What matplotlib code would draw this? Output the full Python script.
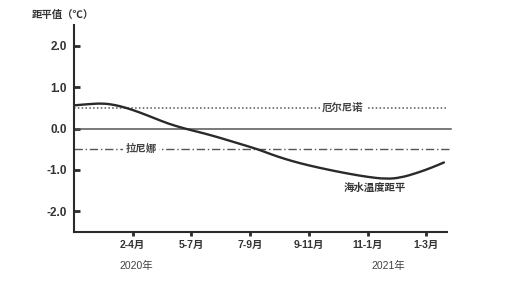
import numpy as np
import matplotlib
matplotlib.use('Agg')
import matplotlib.pyplot as plt
from matplotlib.path import Path
from matplotlib.patches import PathPatch

plt.rcParams['font.family'] = ['Liberation Sans', 'Noto Sans CJK SC', 'DejaVu Sans']

# x axis: season index (2-4月 = 1)
season_labels = ['2-4月', '5-7月', '7-9月', '9-11月', '11-1月', '1-3月']
season_pos = [1, 2, 3, 4, 5, 6]

# sea temperature anomaly curve
curve_x = [0.0, 0.25, 0.49, 0.7, 0.89, 1.1, 1.37, 1.6, 1.88, 2.2, 2.5, 2.8,
           3.13, 3.35, 3.58, 3.85, 4.15, 4.45, 4.71, 5.0, 5.31, 5.56, 5.85,
           6.1, 6.3]
curve_y = [0.56, 0.59, 0.61, 0.57, 0.50, 0.40, 0.25, 0.12, 0.0, -0.11,
           -0.23, -0.36, -0.50, -0.62, -0.73, -0.84, -0.94, -1.03, -1.10,
           -1.17, -1.22, -1.19, -1.07, -0.94, -0.82]

el_nino = 0.5
la_nina = -0.5
yticks = [-2.0, -1.0, 0.0, 1.0, 2.0]


def smooth_path(xs, ys):
    # quadratic bezier through midpoints, read points act as control points
    pts = np.column_stack([xs, ys])
    verts = [pts[0]]
    codes = [Path.MOVETO]
    verts.append((pts[0] + pts[1]) / 2)
    codes.append(Path.LINETO)
    for i in range(1, len(pts) - 1):
        verts += [pts[i], (pts[i] + pts[i + 1]) / 2]
        codes += [Path.CURVE3, Path.CURVE3]
    verts.append(pts[-1])
    codes.append(Path.LINETO)
    return Path(verts, codes)


fig = plt.figure(figsize=(5.15, 2.85), dpi=100)
ax = fig.add_axes([0.1437, 0.186, 0.724, 0.726])

dark = '#2a2a2a'
grey = '#555555'

ax.plot([0, 6.42], [0, 0], color=grey, lw=1.1, clip_on=False)
ax.plot([0, 6.33], [el_nino, el_nino], color=grey, lw=1.1, ls=(0, (1, 1.5)), clip_on=False)
ax.plot([0, 6.42], [la_nina, la_nina], color=grey, lw=1.0, ls=(0, (6, 2, 1, 2)), clip_on=False)
ax.add_patch(PathPatch(smooth_path(curve_x, curve_y), facecolor='none',
                       edgecolor=dark, lw=1.7, capstyle='round', zorder=3))

box = dict(facecolor='white', edgecolor='none', pad=1.5)
ax.text(4.58, el_nino, '厄尔尼诺', ha='center', va='center', fontsize=7.5,
        fontweight='bold', color='#444444', bbox=box, zorder=4)
ax.text(1.14, la_nina, '拉尼娜', ha='center', va='center', fontsize=7.5,
        fontweight='bold', color='#444444', bbox=box, zorder=4)
ax.text(5.12, -1.44, '海水温度距平', ha='center', va='center', fontsize=7.5,
        fontweight='bold', color='#333333', zorder=4)

ax.set_xlim(0.0, 6.35)
ax.set_ylim(-2.5, 2.5)
ax.set_xticks(season_pos)
ax.set_xticklabels(season_labels, fontsize=7.5, fontweight='bold', color='#333333')
ax.set_yticks(yticks)
ax.set_yticklabels(['%.1f' % v for v in yticks], fontsize=8.5, fontweight='bold', color='#333333')
ax.tick_params(axis='y', direction='in', length=4, width=2, color=dark, pad=5)
ax.tick_params(axis='x', direction='out', length=3, width=2, color=dark, pad=3)

for s in ['top', 'right']:
    ax.spines[s].set_visible(False)
for s in ['left', 'bottom']:
    ax.spines[s].set_color(dark)
    ax.spines[s].set_linewidth(1.5)

fig.text(32 / 515, 1 - 15 / 285, '距平值（℃）', ha='left', va='center', fontsize=7.5,
         fontweight='bold', color='#333333')
fig.text(136 / 515, 1 - 266 / 285, '2020年', ha='center', va='center', fontsize=7.5,
         color='#444444')
fig.text(388 / 515, 1 - 266 / 285, '2021年', ha='center', va='center', fontsize=7.5,
         color='#444444')

fig.savefig('out.png', dpi=100)
